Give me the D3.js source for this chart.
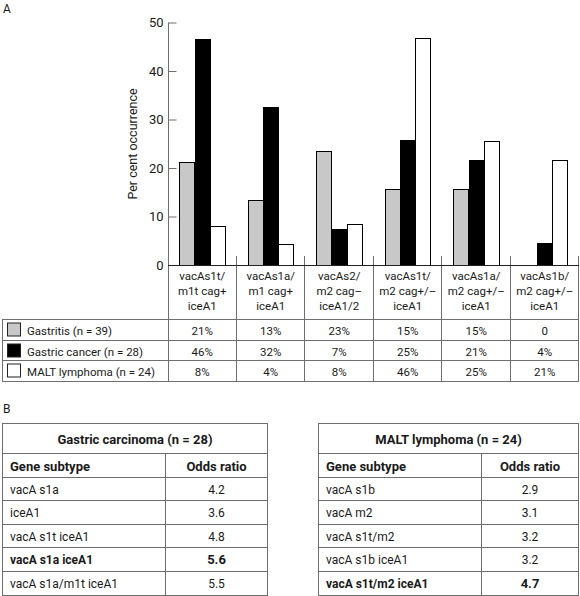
<!DOCTYPE html>
<html><head><meta charset="utf-8">
<script src="https://cdn.jsdelivr.net/npm/d3@7"></script>
<style>
body{margin:0;background:#fff}
svg{display:block}
text{font-family:Roboto,"Liberation Sans",sans-serif;fill:#1a1a1a}
</style>
</head><body>
<svg id="c" width="580" height="596"></svg>
<script>
// ---- Panel A data ----
const categories = [
  ["vacAs1t/", "m1t cag+", "iceA1"],
  ["vacAs1a/", "m1 cag+", "iceA1"],
  ["vacAs2/", "m2 cag–", "iceA1/2"],
  ["vacAs1t/", "m2 cag+/–", "iceA1"],
  ["vacAs1a/", "m2 cag+/–", "iceA1"],
  ["vacAs1b/", "m2 cag+/–", "iceA1"]
];
const seriesNames = ["Gastritis (n = 39)", "Gastric cancer (n = 28)", "MALT lymphoma (n = 24)"];
const seriesColors = ["#c8c8c8", "#000000", "#ffffff"];
const gastritis = [21.3, 13.4, 23.6, 15.6, 15.6, 0];
const gastricCancer = [46.6, 32.5, 7.4, 25.8, 21.6, 4.6];
const maltLymphoma = [8.1, 4.3, 8.5, 46.9, 25.6, 21.6];
const gastritisLabels = ["21%", "13%", "23%", "15%", "15%", "0"];
const gastricCancerLabels = ["46%", "32%", "7%", "25%", "21%", "4%"];
const maltLymphomaLabels = ["8%", "4%", "8%", "46%", "25%", "21%"];
const yTicks = [0, 10, 20, 30, 40, 50];
const yTitle = "Per cent occurrence";

// ---- Panel B data ----
const carcinomaTitle = "Gastric carcinoma (n = 28)";
const carcinomaGenes = ["vacA s1a", "iceA1", "vacA s1t iceA1", "vacA s1a iceA1", "vacA s1a/m1t iceA1"];
const carcinomaOdds = ["4.2", "3.6", "4.8", "5.6", "5.5"];
const carcinomaBold = [false, false, false, true, false];
const maltTitle = "MALT lymphoma (n = 24)";
const maltGenes = ["vacA s1b", "vacA m2", "vacA s1t/m2", "vacA s1b iceA1", "vacA s1t/m2 iceA1"];
const maltOdds = ["2.9", "3.1", "3.2", "3.2", "4.7"];
const maltBold = [false, false, false, false, true];
const headerLabels = ["Gene subtype", "Odds ratio"];

const seriesValues = [gastritis, gastricCancer, maltLymphoma];
const seriesLabels = [gastritisLabels, gastricCancerLabels, maltLymphomaLabels];

const svg = d3.select("#c");
const gridColor = "#6e6e6e";
const catKeys = categories.map((c, i) => i);

const x0 = d3.scaleBand().domain(catKeys).range([168, 579]);
const x1 = d3.scaleBand().domain(d3.range(seriesNames.length)).range([0, x0.bandwidth()]).paddingOuter(0.74);
const y = d3.scaleLinear().domain([0, 50]).range([265, 22.5]);

// panel labels
svg.append("text").attr("x", 3).attr("y", 13).style("font-size", "12px").text("A");
svg.append("text").attr("x", 3).attr("y", 413).style("font-size", "12px").text("B");

// bars
const g = svg.append("g");
seriesValues.forEach((vals, s) => {
  g.selectAll(null).data(vals.map((v, i) => ({v, i})).filter(d => d.v > 0)).join("rect")
    .attr("x", d => Math.round(x0(d.i) + x1(s)) + 0.5)
    .attr("y", d => Math.round(y(d.v)) + 0.5)
    .attr("width", Math.round(x1.bandwidth()))
    .attr("height", d => Math.round(y(0)) - Math.round(y(d.v)))
    .attr("fill", seriesColors[s])
    .attr("stroke", "#000").attr("stroke-width", 1);
});

// y axis
const yAxis = d3.axisLeft(y).tickValues(yTicks).tickSizeInner(-8).tickSizeOuter(0).tickPadding(5);
const ya = svg.append("g").attr("transform", "translate(168.5,0)").call(yAxis);
ya.select(".domain").remove();
ya.selectAll(".tick line").attr("stroke", gridColor);
ya.selectAll(".tick text").style("font-size", "13px").style("font-family", "Roboto,'Liberation Sans',sans-serif").attr("fill", "#1a1a1a");

svg.append("text")
  .attr("transform", `translate(137,144) rotate(-90)`)
  .attr("text-anchor", "middle").style("font-size", "12.5px").text(yTitle);

// grid lines for table A
const lines = svg.append("g").attr("stroke", gridColor).attr("stroke-width", 1);
const ln = (xa, ya_, xb, yb) => lines.append("line").attr("x1", xa).attr("y1", ya_).attr("x2", xb).attr("y2", yb);
const rowY = [319.5, 340.5, 360.5, 381.5];
rowY.forEach(r => ln(2, r, 579, r));
ln(2.5, 319.5, 2.5, 381.5);
ln(168.5, y(50), 168.5, 381.5);
catKeys.forEach(k => {
  const xx = Math.round(x0(k) + x0.bandwidth()) - 0.5;
  ln(xx, 256, xx, 381.5);
});
svg.append("line").attr("x1", 168).attr("x2", 579).attr("y1", 265.5).attr("y2", 265.5).attr("stroke", "#222");

// category labels
categories.forEach((lab, i) => {
  const t = svg.append("text").attr("text-anchor", "middle").style("font-size", "11.5px");
  lab.forEach((l, j) => t.append("tspan").attr("x", x0(i) + x0.bandwidth() / 2).attr("y", 280 + j * 15).text(l));
});

// legend rows and values
seriesNames.forEach((name, s) => {
  const top = rowY[s];
  svg.append("rect").attr("x", 7.5).attr("y", top + 3.5).attr("width", 13).attr("height", 13)
    .attr("fill", seriesColors[s]).attr("stroke", "#222");
  svg.append("text").attr("x", 27).attr("y", top + 15).style("font-size", "11.5px").text(name);
  seriesLabels[s].forEach((lv, i) => {
    svg.append("text").attr("x", x0(i) + x0.bandwidth() / 2).attr("y", top + 15)
      .attr("text-anchor", "middle").style("font-size", "11.5px").text(lv);
  });
});

// ---- Panel B tables ----
function drawTable(x0t, x1t, xdiv, title, genes, odds, bold) {
  const tg = svg.append("g");
  const ys = [423.5, 453.5, 477.5, 500.5, 524.5, 547.5, 571.5, 595.5];
  const tl = tg.append("g").attr("stroke", gridColor);
  ys.forEach(yy => tl.append("line").attr("x1", x0t).attr("x2", x1t).attr("y1", yy).attr("y2", yy));
  tl.append("line").attr("x1", x0t + 0.5).attr("x2", x0t + 0.5).attr("y1", ys[0]).attr("y2", ys[7]);
  tl.append("line").attr("x1", x1t - 0.5).attr("x2", x1t - 0.5).attr("y1", ys[0]).attr("y2", ys[7]);
  tl.append("line").attr("x1", xdiv + 0.5).attr("x2", xdiv + 0.5).attr("y1", ys[1]).attr("y2", ys[7]);
  tg.append("text").attr("x", (x0t + x1t) / 2).attr("y", ys[0] + 20).attr("text-anchor", "middle")
    .style("font-size", "13px").style("font-weight", "bold").text(title);
  tg.append("text").attr("x", x0t + 8).attr("y", ys[1] + 17).style("font-size", "13px").style("font-weight", "bold").text(headerLabels[0]);
  tg.append("text").attr("x", (xdiv + x1t) / 2).attr("y", ys[1] + 17).attr("text-anchor", "middle")
    .style("font-size", "13px").style("font-weight", "bold").text(headerLabels[1]);
  genes.forEach((gname, i) => {
    const yy = ys[i + 2] + 16;
    tg.append("text").attr("x", x0t + 8).attr("y", yy).style("font-size", "12px")
      .style("font-weight", bold[i] ? "bold" : "normal").text(gname);
    tg.append("text").attr("x", (xdiv + x1t) / 2).attr("y", yy).attr("text-anchor", "middle").style("font-size", bold[i] ? "13px" : "12px")
      .style("font-weight", bold[i] ? "bold" : "normal").text(odds[i]);
  });
}
drawTable(2, 268, 165, carcinomaTitle, carcinomaGenes, carcinomaOdds, carcinomaBold);
drawTable(318, 579, 481, maltTitle, maltGenes, maltOdds, maltBold);
</script>
</body></html>
